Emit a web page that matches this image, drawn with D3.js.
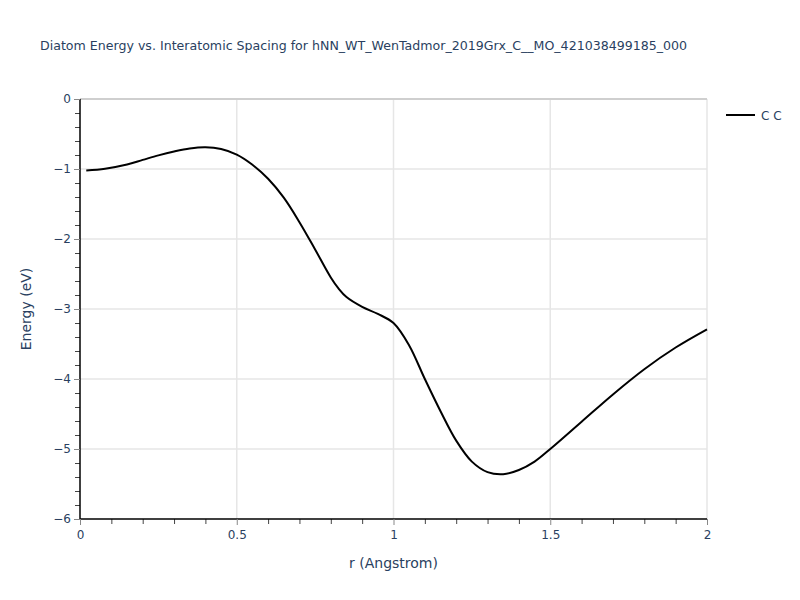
<!DOCTYPE html>
<html>
<head>
<meta charset="utf-8">
<script src="https://cdn.jsdelivr.net/npm/d3@7"></script>
<style>
  body { margin: 0; background: #fff; }
  text { font-family: "DejaVu Sans", Verdana, sans-serif; fill: #2a3f5f; }
</style>
</head>
<body>
<div id="chart"></div>
<script>
// data
var rValues = [0.02, 0.08, 0.15, 0.2, 0.25, 0.3, 0.35, 0.4, 0.45, 0.5, 0.55, 0.6, 0.65, 0.7, 0.75,
  0.8, 0.825, 0.85, 0.9, 0.95, 1.0, 1.05, 1.1, 1.15, 1.2, 1.25, 1.3, 1.35, 1.4, 1.45, 1.5, 1.6, 1.7, 1.8, 1.9, 2.0];
var energyValues = [-1.02, -0.995, -0.935, -0.87, -0.805, -0.75, -0.707, -0.69, -0.715, -0.795, -0.94, -1.14,
  -1.41, -1.76, -2.15, -2.55, -2.71, -2.83, -2.97, -3.07, -3.2, -3.52, -4.0, -4.46, -4.88, -5.18, -5.33, -5.36, -5.3,
  -5.18, -5.0, -4.61, -4.22, -3.86, -3.55, -3.29];
var xTicks = [0, 0.5, 1, 1.5, 2];
var yTicks = [0, -1, -2, -3, -4, -5, -6];
var seriesName = "C C";
var title = "Diatom Energy vs. Interatomic Spacing for hNN_WT_WenTadmor_2019Grx_C__MO_421038499185_000";

var svgWidth = 800, svgHeight = 600;
var margin = { top: 99, right: 93, bottom: 81, left: 80 };
var width = svgWidth - margin.left - margin.right;
var height = svgHeight - margin.top - margin.bottom;

var svg = d3.select("#chart").append("svg")
  .attr("width", svgWidth)
  .attr("height", svgHeight);

var g = svg.append("g")
  .attr("transform", `translate(${margin.left}, ${margin.top})`);

var x = d3.scaleLinear().domain([0, 2]).range([0, width]);
var y = d3.scaleLinear().domain([-6, 0]).range([height, 0]);

// gridlines
g.selectAll(".xgrid").data(xTicks.slice(1)).enter().append("line")
  .attr("x1", d => x(d)).attr("x2", d => x(d))
  .attr("y1", 0).attr("y2", height)
  .attr("stroke", "#e6e6e6").attr("stroke-width", 1.5);
g.selectAll(".ygrid").data(yTicks.slice(0, -1)).enter().append("line")
  .attr("x1", 0).attr("x2", width)
  .attr("y1", d => y(d)).attr("y2", d => y(d))
  .attr("stroke", d => d === 0 ? "#cfcfcf" : "#e6e6e6").attr("stroke-width", d => d === 0 ? 2 : 1.5);

// minor ticks
var xMinor = d3.range(0, 2.0001, 0.1).filter(d => Math.abs(d * 2 - Math.round(d * 2)) > 1e-6);
var yMinor = d3.range(-6, 0.0001, 0.2).filter(d => Math.abs(d - Math.round(d)) > 1e-6);
g.append("g").attr("transform", `translate(0, ${height})`)
  .call(d3.axisBottom(x).tickValues(xMinor).tickSize(5).tickFormat(""))
  .call(s => s.select(".domain").remove())
  .selectAll("line").attr("stroke", "#444");
g.append("g")
  .call(d3.axisLeft(y).tickValues(yMinor).tickSize(5).tickFormat(""))
  .call(s => s.select(".domain").remove())
  .selectAll("line").attr("stroke", "#444");

// major axes
var fmt = d => (d < 0 ? "\u2212" + Math.abs(d) : d3.format("")(d));
var xAxis = g.append("g").attr("transform", `translate(0, ${height})`)
  .call(d3.axisBottom(x).tickValues(xTicks).tickSize(6).tickPadding(5).tickFormat(fmt));
var yAxis = g.append("g")
  .call(d3.axisLeft(y).tickValues(yTicks).tickSize(6).tickPadding(3).tickFormat(fmt));
[xAxis, yAxis].forEach(function(a) {
  a.select(".domain").attr("stroke", "#000").attr("stroke-width", 1.5);
  a.selectAll(".tick line").attr("stroke", "#888");
  a.selectAll(".tick text").attr("font-size", 12).style("fill", "#2a3f5f")
    .attr("font-family", "'DejaVu Sans', sans-serif");
});
yAxis.select(".domain").attr("d", `M0,${height}V0`);
xAxis.select(".domain").attr("d", `M0,0H${width}`);

// the curve
var points = rValues.map((r, i) => ({ r: r, e: energyValues[i] }));
var line = d3.line()
  .x(d => x(d.r))
  .y(d => y(d.e))
  .curve(d3.curveCatmullRom.alpha(0.5));
g.append("path").datum(points)
  .attr("d", line)
  .attr("fill", "none")
  .attr("stroke", "#000")
  .attr("stroke-width", 2);

// title
svg.append("text")
  .attr("x", 40).attr("y", 50)
  .attr("font-size", 12.6)
  .text(title);

// axis titles
svg.append("text")
  .attr("x", margin.left + width / 2).attr("y", 568)
  .attr("text-anchor", "middle").attr("font-size", 14)
  .text("r (Angstrom)");
svg.append("text")
  .attr("transform", `translate(31, ${margin.top + height / 2}) rotate(-90)`)
  .attr("text-anchor", "middle").attr("font-size", 14)
  .text("Energy (eV)");

// legend
var legend = svg.append("g").attr("transform", "translate(726, 115)");
legend.append("line")
  .attr("x1", 0).attr("x2", 29).attr("y1", 0).attr("y2", 0)
  .attr("stroke", "#000").attr("stroke-width", 2);
legend.append("text")
  .attr("x", 35).attr("y", 4.5).attr("font-size", 12)
  .text(seriesName);
</script>
</body>
</html>
